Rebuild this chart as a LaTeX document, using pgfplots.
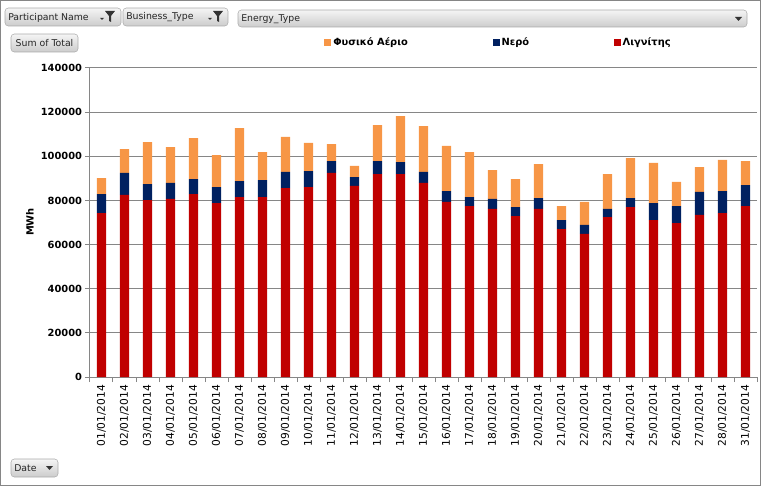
\documentclass[border=0pt]{standalone}
\usepackage{pgfplots}
\usepackage{pgfplotstable}
\pgfplotsset{compat=1.18}
\usepackage{fontspec}
\setmainfont{DejaVu Sans}
\definecolor{gas}{HTML}{F79646}
\definecolor{hyd}{HTML}{002060}
\definecolor{lig}{HTML}{C00000}
\definecolor{gridc}{HTML}{868686}
\definecolor{btnbd}{HTML}{ABABAB}

% daily MWh per energy type
\pgfplotstableread{
x lig hyd gas
0  74300 8600 7260
1  82460 9970 10870
2  80190 7250 19030
3  80650 7250 16300
4  82910 6790 18580
5  78830 7250 14500
6  81550 7250 24010
7  81550 7700 12690
8  85630 7250 15860
9  86080 7250 12690
10 92430 5430 7700
11 86540 4070 4990
12 91970 5890 16310
13 91970 5440 20840
14 87900 4980 20840
15 79290 4980 20390
16 77470 4080 20390
17 76120 4530 13130
18 72940 4080 12680
19 76120 4980 15400
20 67050 4080 6340
21 64790 4080 10420
22 72490 3630 15850
23 77020 4080 18120
24 71130 7700 18130
25 69770 7700 10880
26 73400 10420 11320
27 74300 9970 14050
28 77470 9520 10870
}\data

% pixel positions measured from the top-left corner
\newcommand{\btn}[4]{\shade[top color=white!96!black, bottom color=black!20, draw=btnbd, rounded corners=2.5pt] (#1,486-#2) rectangle (#3,486-#4);}
\newcommand{\funnel}[2]{%
  \fill[black!80] (#1,486-#2-7) -- (#1+4,486-#2-7) -- (#1+2,486-#2-9) -- cycle;
  \fill[black!80] (#1+5,486-#2) -- (#1+15,486-#2) -- (#1+11,486-#2-5) -- (#1+11,486-#2-11) -- (#1+9,486-#2-10) -- (#1+9,486-#2-5) -- cycle;}
\newcommand{\arr}[2]{\fill[black!80] (#1,486-#2) -- (#1+7,486-#2) -- (#1+3.5,486-#2-4) -- cycle;}

\begin{document}
\begin{tikzpicture}[x=0.75pt,y=0.75pt]
\path[use as bounding box] (0,0) rectangle (761,486);
\draw[gridc, line width=1.1pt] (0.75,0.75) rectangle (760.25,485.25);

\tikzset{btxt/.style={anchor=west, inner sep=0pt, text=black!85, font=\fontsize{7}{8}\selectfont}}
\btn{5}{8}{121}{26}
\node[btxt] at (8,486-17.5) {Participant Name};
\funnel{100}{11}
\btn{123}{8}{228}{26}
\node[btxt] at (126,486-17.5) {Business\_Type};
\funnel{208}{11}
\btn{238}{10}{747}{27}
\node[btxt] at (241,486-19) {Energy\_Type};
\arr{735}{17}
\btn{11}{34}{78}{52}
\node[btxt, anchor=center] at (44.5,486-43.5) {Sum of Total};
\btn{11}{459}{58}{477}
\node[btxt] at (14,486-468.5) {Date};
\arr{46}{466}

\node[rotate=90, font=\bfseries\fontsize{7.4}{9}\selectfont] at (30,486-222) {MWh};

\begin{axis}[
  at={(67.5pt,81.75pt)}, anchor=south west, scale only axis,
  width=500.25pt, height=231.75pt,
  ybar stacked, bar width=7pt,
  xmin=-0.5, xmax=28.5, ymin=0, ymax=140000,
  axis lines*=left, axis line style={gridc, line width=0.75pt},
  ytick={0,20000,40000,60000,80000,100000,120000,140000},
  yticklabels={0,20000,40000,60000,80000,100000,120000,140000},
  scaled y ticks=false,
  ymajorgrids, grid style={gridc, line width=0.75pt},
  xtick={0,...,28},
  xticklabels={01/01/2014,02/01/2014,03/01/2014,04/01/2014,05/01/2014,06/01/2014,07/01/2014,08/01/2014,09/01/2014,10/01/2014,11/01/2014,12/01/2014,13/01/2014,14/01/2014,15/01/2014,16/01/2014,17/01/2014,18/01/2014,19/01/2014,20/01/2014,21/01/2014,22/01/2014,23/01/2014,24/01/2014,25/01/2014,26/01/2014,27/01/2014,28/01/2014,31/01/2014},
  minor xtick={-0.5,0.5,...,28.5},
  major x tick style={draw=none},
  tick align=outside, major tick length=3.75pt, minor tick length=3.75pt,
  tick style={gridc, line width=0.75pt},
  yticklabel style={font=\bfseries\fontsize{7.4}{9}\selectfont, inner sep=2pt},
  xticklabel style={rotate=90, anchor=east, font=\fontsize{8}{9}\selectfont, inner sep=2pt},
  legend columns=3, reverse legend,
  legend image code/.code={\fill[#1] (0pt,-2.6pt) rectangle (5.2pt,2.6pt);},
  legend style={draw=none, fill=none, at={(0.345,1.082)}, anchor=west,
    font=\bfseries\fontsize{7.4}{9}\selectfont,
    nodes={inner sep=1.5pt},
    /tikz/every even column/.append style={column sep=62pt}},
]
\addplot[fill=lig, draw=none] table[x=x, y=lig] {\data};
\addplot[fill=hyd, draw=none] table[x=x, y=hyd] {\data};
\addplot[fill=gas, draw=none] table[x=x, y=gas] {\data};
\legend{Λιγνίτης, Νερό, Φυσικό Αέριο}
\end{axis}
\end{tikzpicture}
\end{document}
